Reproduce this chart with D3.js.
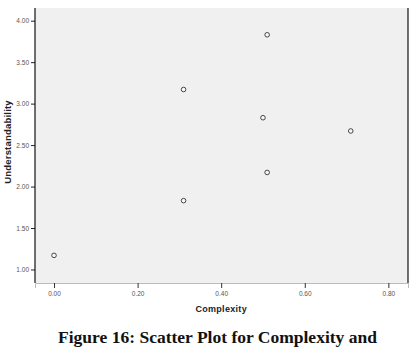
<!DOCTYPE html>
<html>
<head>
<meta charset="utf-8">
<script src="https://cdn.jsdelivr.net/npm/d3@7"></script>
<style>
  body { margin: 0; background: #fff; }
  .tick text { fill: #555; }
</style>
</head>
<body>
<div id="chart"></div>
<script>
var complexity = [0.00, 0.51, 0.31, 0.50, 0.71, 0.51, 0.31];
var understandability = [1.17, 3.83, 3.17, 2.83, 2.67, 2.17, 1.83];
var xTicks = [0.00, 0.20, 0.40, 0.60, 0.80];
var yTicks = [1.00, 1.50, 2.00, 2.50, 3.00, 3.50, 4.00];

(function() {
  var width = 413, height = 349;
  var plotLeft = 35, plotRight = 408, plotTop = 8, plotBottom = 283;

  var svg = d3.select("#chart").append("svg")
      .attr("width", width)
      .attr("height", height);

  var x = d3.scaleLinear().domain([-0.0455, 0.847]).range([plotLeft, plotRight]);
  var y = d3.scaleLinear().domain([0.837, 4.153]).range([plotBottom, plotTop]);

  // plot background
  svg.append("rect")
    .attr("x", plotLeft).attr("y", plotTop)
    .attr("width", plotRight - plotLeft).attr("height", plotBottom - plotTop)
    .attr("fill", "#f0f0f0");

  // bottom axis
  var xAxis = svg.append("g")
    .attr("transform", "translate(0," + plotBottom + ")")
    .call(d3.axisBottom(x).tickValues(xTicks).tickSize(5).tickPadding(3)
      .tickFormat(d3.format(".2f")));
  xAxis.select(".domain").attr("stroke", "#bbb");
  xAxis.selectAll(".tick line").attr("stroke", "#333");
  xAxis.selectAll("text").style("font-family", "Arial, 'Liberation Sans'").style("font-size", "6.5px");

  // left axis
  var yAxis = svg.append("g")
    .attr("transform", "translate(" + plotLeft + ",0)")
    .call(d3.axisLeft(y).tickValues(yTicks).tickSize(4).tickPadding(2)
      .tickFormat(d3.format(".2f")));
  yAxis.select(".domain").remove();
  yAxis.selectAll(".tick line").attr("stroke", "#222");
  yAxis.selectAll("text").style("font-family", "Arial, 'Liberation Sans'").style("font-size", "6.5px");

  // frame lines left and right
  svg.append("line")
    .attr("x1", plotLeft).attr("x2", plotLeft).attr("y1", plotTop).attr("y2", plotBottom)
    .attr("stroke", "#111").attr("stroke-width", 1.2);
  svg.append("line")
    .attr("x1", plotRight).attr("x2", plotRight).attr("y1", plotTop).attr("y2", plotBottom)
    .attr("stroke", "#111").attr("stroke-width", 1.2);

  // points
  var pts = complexity.map(function(c, i) { return {x: c, y: understandability[i]}; });
  svg.selectAll(".dot")
    .data(pts)
    .enter().append("circle")
    .attr("class", "dot")
    .attr("cx", function(d) { return x(d.x); })
    .attr("cy", function(d) { return y(d.y); })
    .attr("r", 2.3)
    .attr("fill", "#f8f8f8")
    .attr("stroke", "#333")
    .attr("stroke-width", 0.9);

  // axis titles
  svg.append("text")
    .attr("x", x(0.40)).attr("y", 312)
    .attr("text-anchor", "middle")
    .style("font-family", "Arial, 'Liberation Sans'")
    .style("font-weight", "bold")
    .style("font-size", "9px")
    .style("letter-spacing", "0.3px")
    .attr("fill", "#222")
    .text("Complexity");

  svg.append("text")
    .attr("transform", "translate(11,142)rotate(-90)")
    .attr("text-anchor", "middle")
    .style("font-family", "Arial, 'Liberation Sans'")
    .style("font-weight", "bold")
    .style("font-size", "9.5px")
    .style("letter-spacing", "0.2px")
    .attr("fill", "#222")
    .text("Understandability");

  // caption
  svg.append("text")
    .attr("x", 217.5).attr("y", 343)
    .attr("text-anchor", "middle")
    .style("font-family", "'Liberation Serif', 'Times New Roman', serif")
    .style("font-weight", "bold")
    .style("font-size", "17.5px")
    .attr("fill", "#111")
    .text("Figure 16: Scatter Plot for Complexity and");
})();
</script>
</body>
</html>
